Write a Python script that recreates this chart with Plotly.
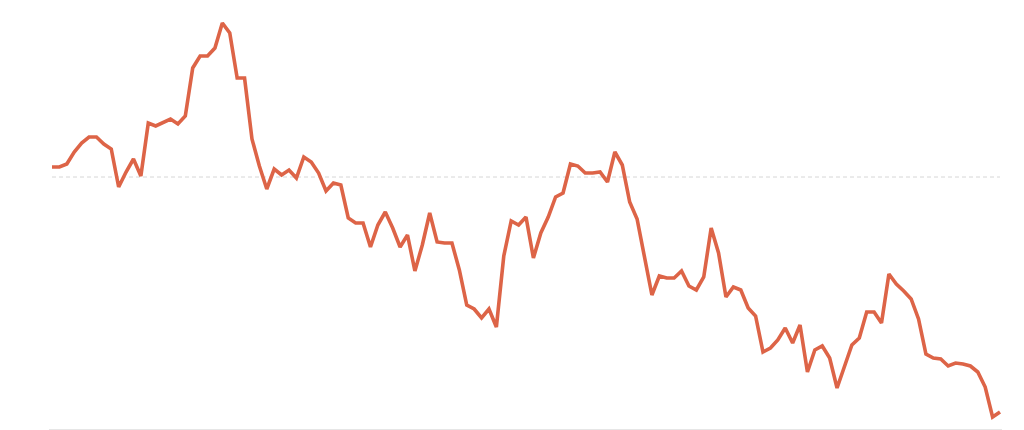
import plotly.graph_objects as go

# weekly observations (index) and series values; reference level at 0
weeks = list(range(1, 130))
values = [
    1.0, 1.0, 1.3, 2.5, 3.4, 4.0, 4.0, 3.3, 2.8, -1.0,
    0.5, 1.8, 0.1, 5.4, 5.1, 5.5, 5.8, 5.3, 6.1, 10.9,
    12.1, 12.1, 12.9, 15.4, 14.4, 9.9, 9.9, 3.8, 1.1, -1.2,
    0.8, 0.2, 0.7, -0.1, 2.0, 1.5, 0.4, -1.4, -0.6, -0.8,
    -4.1, -4.6, -4.6, -7.0, -4.8, -3.5, -5.1, -7.0, -5.8, -9.4,
    -6.8, -3.6, -6.5, -6.6, -6.6, -9.3, -12.8, -13.2, -14.1, -13.2,
    -15.0, -7.9, -4.4, -4.8, -4.0, -8.1, -5.6, -4.0, -2.0, -1.6,
    1.3, 1.1, 0.4, 0.4, 0.5, -0.5, 2.5, 1.2, -2.5, -4.2,
    -8.0, -11.8, -9.9, -10.1, -10.1, -9.4, -10.9, -11.3, -10.0, -5.1,
    -7.6, -12.0, -11.0, -11.3, -13.1, -13.9, -17.5, -17.1, -16.3, -15.1,
    -16.6, -14.8, -19.5, -17.3, -16.9, -18.1, -21.1, -19.0, -16.8, -16.1,
    -13.5, -13.5, -14.6, -9.7, -10.7, -11.4, -12.2, -14.2, -17.7, -18.1,
    -18.2, -18.9, -18.6, -18.7, -18.9, -19.5, -21.0, -24.0, -23.5,
]
reference_level = 0

fig = go.Figure()
fig.add_trace(go.Scatter(
    x=weeks, y=values, mode="lines",
    line=dict(color="#dd6447", width=3.6),
    hoverinfo="skip", showlegend=False,
))
fig.add_shape(
    type="line", xref="x", yref="y",
    x0=weeks[0], x1=weeks[-1], y0=reference_level, y1=reference_level,
    line=dict(color="#d6d6d6", width=1, dash="4px,3px"),
    layer="below",
)
fig.update_layout(
    width=1016, height=422,
    margin=dict(l=41, r=22, t=0, b=1),
    paper_bgcolor="white", plot_bgcolor="white",
    xaxis=dict(range=[0.595, 129.27], showgrid=False, zeroline=False,
               showticklabels=False, ticks="", showline=True,
               linecolor="#e6e6e6", linewidth=1),
    yaxis=dict(range=[-25.2, 16.9], showgrid=False, zeroline=False,
               showticklabels=False, ticks="", showline=False),
)
fig.write_html("out.html")
